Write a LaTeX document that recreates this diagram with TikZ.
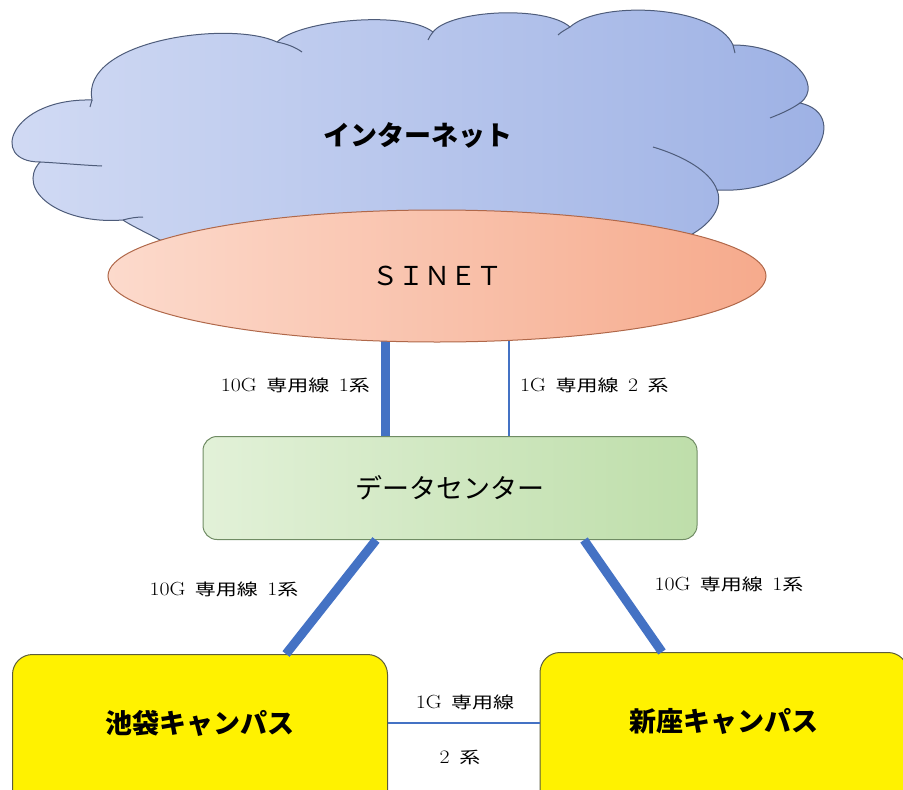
\documentclass[tikz,border=0pt]{standalone}
\usepackage{fontspec}
\newfontfamily\jp{Noto Sans CJK JP}
\newfontfamily\jpw{Noto Sans CJK JP}[FakeStretch=1.3,Scale=0.85]
\newfontfamily\lmw{Latin Modern Roman}[FakeStretch=1.15]
\usetikzlibrary{shapes.geometric,backgrounds}

\definecolor{lineblue}{RGB}{68,114,196}
\definecolor{cloudL}{RGB}{210,219,244}
\definecolor{cloudR}{RGB}{156,176,228}
\definecolor{cloudline}{RGB}{78,92,122}
\definecolor{sinetL}{RGB}{252,218,204}
\definecolor{sinetR}{RGB}{246,170,140}
\definecolor{sinetline}{RGB}{176,104,74}
\definecolor{dcL}{RGB}{226,241,216}
\definecolor{dcR}{RGB}{190,222,170}
\definecolor{dcline}{RGB}{112,140,100}
\definecolor{campusline}{RGB}{92,92,60}

\tikzset{
  tenG/.style={lineblue, line width=9pt},
  oneG/.style={lineblue, line width=2.5pt},
  lbl/.style={inner sep=0pt, font=\lmw\fontsize{19}{22}\selectfont},
  bigtxt/.style={font=\jp\fontsize{27}{32}\selectfont},
  campus/.style={draw=campusline, line width=1pt, fill=yellow, rounded corners=20pt,
    inner sep=0pt, anchor=north, minimum height=180, text height=24pt, text depth=46pt,
    font=\jp\bfseries\fontsize{27}{32}\selectfont},
}

\begin{document}
\begin{tikzpicture}[x=1pt, y=-1pt]

  \useasboundingbox (0,0) rectangle (903,790);
  \clip (0,0) rectangle (903,790);

  %cloud
  \draw[cloudline, line width=1pt, left color=cloudL, right color=cloudR]
    (92,100) .. controls (80,40) and (230,20) .. (277,42)
    .. controls (300,20) and (405,10) .. (433,32)
    .. controls (450,10) and (545,5) .. (570,27)
    .. controls (600,0) and (715,5) .. (733,45)
    .. controls (790,45) and (825,85) .. (800,103)
    .. controls (855,115) and (810,195) .. (717,190)
    .. controls (725,210) and (705,230) .. (680,240)
    -- (160,240)
    .. controls (145,232) and (130,225) .. (123,220)
    .. controls (60,225) and (15,190) .. (40,162)
    .. controls (-12,162) and (10,98) .. (92,100) -- cycle;

  \draw[cloudline, line width=1pt] (92,100) -- (90,107);
  \draw[cloudline, line width=1pt] (277,42) .. controls (287,44) and (295,47) .. (302,52);
  \draw[cloudline, line width=1pt] (433,32) .. controls (431,35) and (429,37) .. (428,40);
  \draw[cloudline, line width=1pt] (570,27) .. controls (565,30) and (561,32) .. (558,35);
  \draw[cloudline, line width=1pt] (733,45) -- (735,53);
  \draw[cloudline, line width=1pt] (800,103) .. controls (790,110) and (780,114) .. (770,118);
  \draw[cloudline, line width=1pt] (653,147) .. controls (680,155) and (710,170) .. (717,190);
  \draw[cloudline, line width=1pt] (40,162) .. controls (60,163) and (80,165) .. (102,166);
  \draw[cloudline, line width=1pt] (123,220) .. controls (130,218) and (137,217) .. (143,217);

  \node[bigtxt, font=\jp\bfseries\fontsize{27}{32}\selectfont] (inet) at (418,135) {インターネット};

  %sinet
  \node[ellipse, draw=sinetline, line width=1pt, left color=sinetL, right color=sinetR,
        minimum width=658, minimum height=132, inner sep=0pt,
        font=\jp\fontsize{26}{30}\selectfont] (sinet) at (437,276) {ＳＩＮＥＴ};

  %data center
  \node[draw=dcline, line width=1pt, left color=dcL, right color=dcR, rounded corners=14pt,
        minimum width=494, minimum height=103, inner sep=0pt, bigtxt] (dc) at (450,488) {データセンター};

  %campus
  \node[campus, minimum width=375] (ike) at (200,654) {池袋キャンパス};
  \node[campus, minimum width=368] (nii) at (724,652) {新座キャンパス};

  %links
  \coordinate (xa) at (385,0);
  \coordinate (xb) at (509,0);
  \coordinate (xc) at (376,0);
  \coordinate (xd) at (286,0);
  \coordinate (xe) at (584,0);
  \coordinate (xf) at (662,0);
  \coordinate (ym) at (0,723);
  \begin{scope}[on background layer]
    \draw[tenG] (dc.north -| xa) -- (sinet.center -| xa);
    \draw[oneG] (dc.north -| xb) -- (sinet.center -| xb);
  \end{scope}
  \draw[tenG] (dc.south -| xc) -- (ike.north -| xd);
  \draw[tenG] (dc.south -| xe) -- (nii.north -| xf);
  \draw[oneG] (ike.east |- ym) -- (nii.west |- ym);

  %labels
  \node[lbl, anchor=east] (up10) at (370,385) {10G\enspace{\jpw 専用線}\enspace 1{\jpw 系}};
  \node[lbl, anchor=west] (up1) at (520,385) {1G\enspace{\jpw 専用線}\enspace 2\enspace{\jpw 系}};
  \node[lbl] (ike10) at (224,589) {10G\enspace{\jpw 専用線}\enspace 1{\jpw 系}};
  \node[lbl] (nii10) at (729,584) {10G\enspace{\jpw 専用線}\enspace 1{\jpw 系}};
  \node[lbl] (mid1) at (465,702) {1G\enspace{\jpw 専用線}};
  \node[lbl] (mid2) at (460,757) {2\enspace{\jpw 系}};

\end{tikzpicture}
\end{document}
